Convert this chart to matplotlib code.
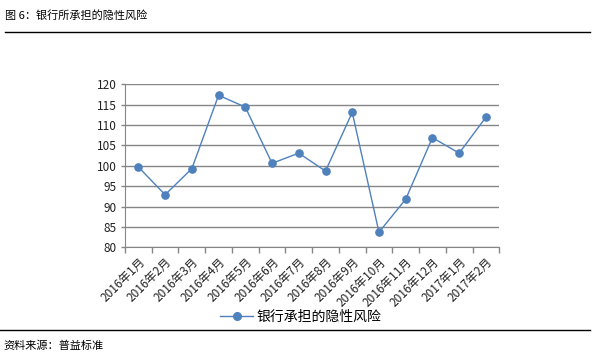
import matplotlib
matplotlib.use("Agg")
from matplotlib import pyplot as plt
from matplotlib.lines import Line2D

plt.rcParams['font.family'] = ['Noto Sans CJK SC', 'DejaVu Sans']

months = ["2016年1月", "2016年2月", "2016年3月", "2016年4月", "2016年5月",
          "2016年6月", "2016年7月", "2016年8月", "2016年9月", "2016年10月",
          "2016年11月", "2016年12月", "2017年1月", "2017年2月"]
risk = [99.7, 92.9, 99.3, 117.3, 114.4, 100.6, 103.1, 98.7, 113.1, 83.7,
        91.8, 106.9, 103.1, 111.9]
series_name = "银行承担的隐性风险"
y_ticks = [80, 85, 90, 95, 100, 105, 110, 115, 120]

blue = "#4F81BD"
grid_gray = "#868686"

fig = plt.figure(figsize=(5.95, 3.6), dpi=100)
ax = fig.add_axes([0.2101, 0.313, 0.629, 0.453])

x = list(range(len(months)))
ax.plot(x, risk, color=blue, lw=1.0, marker="o", markersize=5.2,
        markeredgecolor=blue, markerfacecolor=blue, zorder=3)

ax.set_xlim(-0.5, len(months) - 0.5)
ax.set_ylim(80, 120)
ax.set_yticks(y_ticks)
ax.set_yticklabels([str(v) for v in y_ticks], fontsize=8.5, color="#222222")
ax.yaxis.grid(True, color=grid_gray, lw=1)
ax.set_axisbelow(True)

# category boundaries for tick marks, labels at centres
ax.set_xticks([i - 0.5 for i in range(len(months) + 1)])
ax.set_xticklabels([])
ax.set_xticks(x, minor=True)
ax.set_xticklabels(months, minor=True, rotation=45, ha="right",
                   rotation_mode="anchor", fontsize=8.5, color="#222222")
ax.tick_params(axis="x", which="major", length=4, color=grid_gray, width=1)
ax.tick_params(axis="x", which="minor", length=0, pad=6)
ax.tick_params(axis="y", length=3, color=grid_gray, width=1, pad=3)

for s in ["top", "right"]:
    ax.spines[s].set_visible(False)
ax.spines["left"].set_color(grid_gray)
ax.spines["bottom"].set_color(grid_gray)

handle = Line2D([], [], color=blue, lw=1.0, marker="o", markersize=5.5)
fig.legend([handle], [series_name], loc="center", bbox_to_anchor=(0.505, 0.119),
           frameon=False, fontsize=10, handlelength=2.4, handletextpad=0.2)

fig.text(5 / 595, 1 - 15 / 360, "图 6：银行所承担的隐性风险", fontsize=8,
         va="center", ha="left", color="black")
fig.add_artist(Line2D([5 / 595, 590 / 595], [1 - 31.5 / 360, 1 - 31.5 / 360],
                      color="black", lw=1))
fig.add_artist(Line2D([0, 590 / 595], [1 - 330 / 360, 1 - 330 / 360],
                      color="black", lw=1))
fig.text(3 / 595, 1 - 346 / 360, "资料来源：普益标准", fontsize=8,
         va="center", ha="left", color="black")

fig.savefig("out.png", dpi=100, facecolor="white")
